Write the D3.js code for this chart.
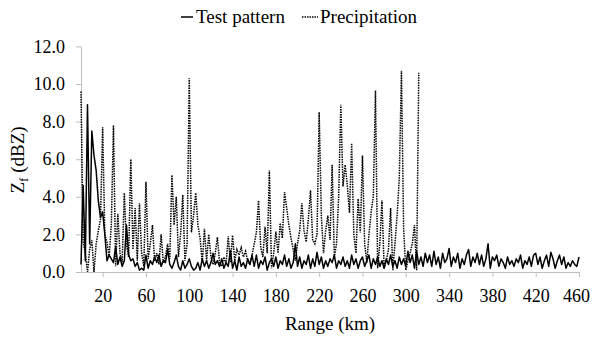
<!DOCTYPE html>
<html>
<head>
<meta charset="utf-8">
<script src="https://cdn.jsdelivr.net/npm/d3@7"></script>
<style>
  body { margin: 0; background: #fff; }
</style>
</head>
<body>
<svg id="chart" width="592" height="339"></svg>
<script>
// range bins are 2 km apart for both series
const rangeStep = 2;
const xTicks = [20, 60, 100, 140, 180, 220, 260, 300, 340, 380, 420, 460];
const yTicks = [0, 2, 4, 6, 8, 10, 12];
const seriesNames = ["Test pattern", "Precipitation"];

// Test pattern, 0 .. 460 km
const testZ = [
  0.4, 4.6, 0.6, 8.9, 1.5, 7.5, 6.2, 5.4, 3.8, 2.9,
  3.2, 2.0, 0.6, 0.9, 0.7, 0.5, 1.35, 0.4, 0.8, 0.3,
  0.6, 2.5, 0.9, 0.6, 0.7, 0.3, 0.5, 0.1, 0.2, 0.1,
  0.9, 0.2, 0.6, 0.4, 0.8, 0.5, 0.9, 0.3, 0.6, 0.5,
  1.2, 0.4, 0.2, 0.5, 0.9, 0.3, 0.1, 0.6, 0.2, 0.4,
  0.7, 0.3, 0.1, 0.2, 0.5, 0.1, 0.7, 0.3, 0.6, 0.2,
  0.5, 1.0, 0.4, 0.6, 0.3, 0.7, 0.2, 0.5, 0.3, 1.15,
  0.2, 0.6, 0.1, 0.8, 0.3, 0.5, 0.2, 0.7, 0.4, 0.9,
  0.3, 0.9, 0.2, 0.6, 0.4, 0.8, 0.1, 0.5, 0.7, 0.3,
  0.8, 0.2, 0.6, 0.4, 0.9, 0.3, 0.7, 0.2, 0.5, 1.5,
  0.3, 0.8, 0.2, 0.6, 0.4, 0.9, 0.2, 0.7, 0.3, 1.05,
  0.4, 0.8, 0.2, 0.6, 0.3, 0.7, 0.5, 0.9, 0.2, 0.6,
  0.4, 0.8, 0.3, 0.6, 0.2, 0.9, 0.4, 0.7, 0.2, 0.6,
  0.8, 0.3, 0.6, 0.9, 0.2, 0.7, 0.4, 0.8, 0.3, 0.6,
  0.2, 0.7, 0.4, 0.9, 0.3, 0.6, 0.2, 0.8, 0.4, 0.7,
  0.3, 1.1, 0.5, 0.9, 0.2, 1.1, 0.4, 0.8, 0.3, 1.0,
  0.5, 0.9, 0.3, 1.1, 0.4, 0.8, 0.2, 1.0, 0.5, 0.7,
  1.25, 0.3, 0.8, 0.5, 1.0, 0.2, 0.7, 0.4, 0.9, 1.2,
  0.3, 0.8, 0.5, 1.0, 0.4, 0.9, 0.3, 0.7, 1.5, 0.2,
  0.8, 0.6, 0.9, 0.3, 0.7, 0.5, 0.2, 0.8, 0.4, 0.6,
  0.3, 0.7, 0.5, 0.9, 0.2, 0.6, 0.4, 0.8, 0.3, 0.9,
  1.0, 0.4, 0.8, 0.2, 0.6, 0.9, 0.3, 1.05, 0.7, 0.2,
  0.6, 0.9, 0.4, 0.8, 0.2, 0.5, 0.3, 0.6, 0.4, 0.3,
  0.8
];

// Precipitation, 0 .. 312 km
const precipZ = [
  9.6, 1.6, 1.0, 0.0, 1.2, 1.7, 0.0, 1.5, 2.2, 2.8,
  7.7, 2.0, 1.6, 0.8, 2.5, 7.8, 0.3, 3.1, 1.0, 0.5,
  4.2, 1.5, 0.8, 6.0, 1.2, 3.4, 0.6, 3.65, 1.0, 0.3,
  4.8, 0.7, 1.5, 2.5, 0.6, 1.0, 0.4, 2.0, 0.5, 0.8,
  1.5, 0.7, 5.15, 2.5, 4.0, 0.8, 2.0, 4.1, 0.6, 1.5,
  10.3, 2.1, 3.0, 4.2, 2.5, 1.8, 0.5, 2.3, 0.6, 2.0,
  0.8, 0.4, 1.0, 1.85, 0.5, 0.3, 0.8, 0.4, 1.9, 0.5,
  1.95, 0.6, 1.2, 0.9, 1.3, 0.8, 1.1, 0.6, 0.4, 0.9,
  1.5, 2.1, 3.8, 1.3, 0.8, 2.4, 1.0, 5.4, 0.2, 1.0,
  2.15, 1.0, 2.6, 1.8, 4.25, 3.4, 2.5, 1.8, 1.2, 0.6,
  1.5, 2.2, 3.65, 2.2, 1.6, 2.8, 4.35, 1.7, 1.5, 2.0,
  8.5, 3.0, 1.0, 2.2, 3.0, 1.7, 5.7, 0.8, 1.5, 4.0,
  8.9, 4.55, 5.7, 4.6, 3.15, 6.85, 2.0, 1.0, 3.9, 2.1,
  6.2, 1.5, 0.5, 2.0, 3.2, 4.0, 9.65, 0.2, 1.5, 3.8,
  0.2, 0.6, 1.2, 3.4, 0.1, 1.5, 3.0, 5.0, 10.7, 2.3,
  0.1, 0.6, 1.0, 1.5, 2.5, 0.1, 10.6
];

const svg = d3.select("#chart");
const axisColor = "#bfbfbf";
const serif = '"Liberation Serif"';
const fontSize = "19px";

const x = d3.scaleLinear().domain([0, 460]).range([81, 579]);
const y = d3.scaleLinear().domain([0, 12]).range([272, 46.4]);

// Y axis
svg.append("g")
  .attr("transform", "translate(81,0)")
  .call(d3.axisLeft(y).tickValues(yTicks).tickFormat(d3.format(".1f"))
    .tickSize(5).tickSizeOuter(0).tickPadding(11));
// X axis
const xAxis = svg.append("g")
  .attr("transform", "translate(0,272)")
  .call(d3.axisBottom(x).tickValues(xTicks).tickFormat(d3.format("d"))
    .tickSize(5).tickSizeOuter(0).tickPadding(12));

svg.selectAll(".domain, .tick line").attr("stroke", axisColor);
svg.selectAll(".tick text").style("font-size", "18px").attr("fill", "#000");
// keep the last range label inside the frame
xAxis.selectAll(".tick text").filter(d => d === 460).attr("dx", -3);

// Lines
const line = d3.line()
  .x((d, i) => x(i * rangeStep))
  .y(d => y(d));

svg.append("path")
  .datum(precipZ)
  .attr("fill", "none")
  .attr("stroke", "#000")
  .attr("stroke-width", 1.5)
  .attr("stroke-dasharray", "1.5,1")
  .attr("d", line);

svg.append("path")
  .datum(testZ)
  .attr("fill", "none")
  .attr("stroke", "#000")
  .attr("stroke-width", 1.5)
  .attr("stroke-linejoin", "round")
  .attr("d", line);

// Axis titles
svg.append("text")
  .attr("x", 330).attr("y", 330)
  .attr("text-anchor", "middle")
  .style("font-size", fontSize)
  .text("Range (km)");

const yTitle = svg.append("text")
  .attr("transform", "translate(24,160) rotate(-90)")
  .attr("text-anchor", "middle")
  .style("font-size", fontSize);
yTitle.append("tspan").text("Z");
yTitle.append("tspan").style("font-size", "13px").attr("dy", 4).text("f");
yTitle.append("tspan").attr("dy", -4).text(" (dBZ)");

// Legend
const legend = svg.append("g");
legend.append("line")
  .attr("x1", 181).attr("x2", 193).attr("y1", 17).attr("y2", 17)
  .attr("stroke", "#000").attr("stroke-width", 1.5);
legend.append("text").attr("x", 196).attr("y", 23).style("font-size", fontSize)
  .text(seriesNames[0]);
legend.append("line")
  .attr("x1", 302).attr("x2", 318).attr("y1", 17).attr("y2", 17)
  .attr("stroke", "#000").attr("stroke-width", 1.5).attr("stroke-dasharray", "1.5,1");
legend.append("text").attr("x", 320).attr("y", 23).style("font-size", fontSize)
  .text(seriesNames[1]);

svg.selectAll("text").style("font-family", serif);
</script>
</body>
</html>
